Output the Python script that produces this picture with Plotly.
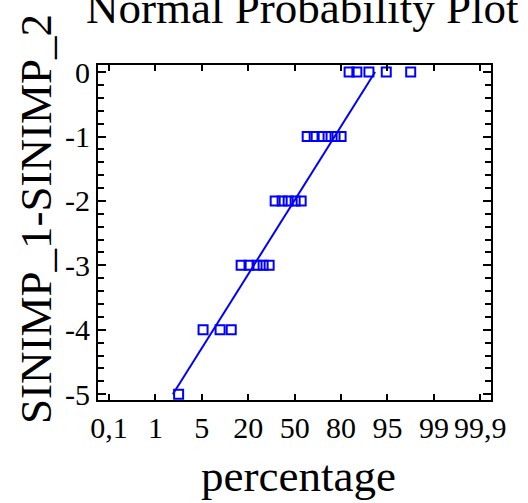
import numpy as np
import plotly.graph_objects as go

# tick labels of the probability axis (evenly spaced on the chart)
tick_pct = [0.1, 1, 5, 20, 50, 80, 95, 99, 99.9]
tick_text = ["0,1", "1", "5", "20", "50", "80", "95", "99", "99,9"]

# y tick values and labels (hyphen minus as in the reference)
y_ticks = [-5, -4, -3, -2, -1, 0]
y_tick_text = ["-5", "-4", "-3", "-2", "-1", "0"]

# observed differences SINIMP_1-SINIMP_2 and their plotting percentages
diff_values = [-5,
               -4, -4, -4,
               -3, -3, -3, -3, -3,
               -2, -2, -2, -2, -2,
               -1, -1, -1, -1, -1, -1,
               0, 0, 0, 0, 0]
pct_values = [3.0,
              5.4, 10.9, 14.5,
              17.7, 20.5, 25.7, 29.6, 33.5,
              37.4, 41.9, 45.8, 50.3, 54.2,
              58.1, 62.6, 67.7, 71.6, 76.1, 80.0,
              82.6, 85.1, 89.0, 94.6, 97.0]

# reference (fitted) line end points
fit_pct = [2.5, 91.0]
fit_diff = [-5, 0]

tick_pos = list(range(len(tick_pct)))


def to_axis(p):
    return np.interp(p, tick_pct, tick_pos)


FONT = "Liberation Serif, Times New Roman, serif"
BLUE = "#0000FF"

fig = go.Figure()
fig.add_trace(go.Scatter(
    x=to_axis(fit_pct), y=fit_diff, mode="lines",
    line=dict(color=BLUE, width=2), showlegend=False, hoverinfo="skip"))
fig.add_trace(go.Scatter(
    x=to_axis(pct_values), y=diff_values, mode="markers",
    marker=dict(symbol="square-open", size=9, color=BLUE,
                line=dict(color=BLUE, width=2)),
    showlegend=False))

fig.update_layout(
    width=528, height=503,
    margin=dict(l=98, r=37, t=65, b=103),
    paper_bgcolor="white", plot_bgcolor="white",
    font=dict(family=FONT, color="black"),
    xaxis=dict(range=[-0.237, 8.23], tickvals=tick_pos, ticktext=tick_text,
               ticks="inside", ticklen=6, tickwidth=2, tickcolor="black",
               showline=True, linecolor="black", linewidth=2, mirror="ticks",
               showgrid=False, zeroline=False,
               tickfont=dict(family=FONT, size=30, color="black")),
    yaxis=dict(range=[-5.09, 0.11], tickvals=y_ticks, ticktext=y_tick_text,
               ticks="inside", ticklen=8, tickwidth=2, tickcolor="black",
               minor=dict(dtick=0.2, ticks="inside", ticklen=6, tickwidth=2,
                          tickcolor="black", showgrid=False),
               showline=True, linecolor="black", linewidth=2, mirror="ticks",
               showgrid=False, zeroline=False,
               tickfont=dict(family=FONT, size=30, color="black")),
    annotations=[
        dict(text="Normal Probability Plot", xref="paper", yref="paper",
             x=0.52, y=1.169, xanchor="center", yanchor="middle",
             showarrow=False, font=dict(family=FONT, size=45, color="black")),
        dict(text="SINIMP_1-SINIMP_2", xref="paper", yref="paper",
             x=-0.158, y=0.54, xanchor="center", yanchor="middle",
             textangle=-90, showarrow=False,
             font=dict(family=FONT, size=45, color="black")),
        dict(text="percentage", xref="paper", yref="paper",
             x=0.51, y=-0.227, xanchor="center", yanchor="middle",
             showarrow=False, font=dict(family=FONT, size=45, color="black")),
    ],
)

fig.write_html("out.html")
